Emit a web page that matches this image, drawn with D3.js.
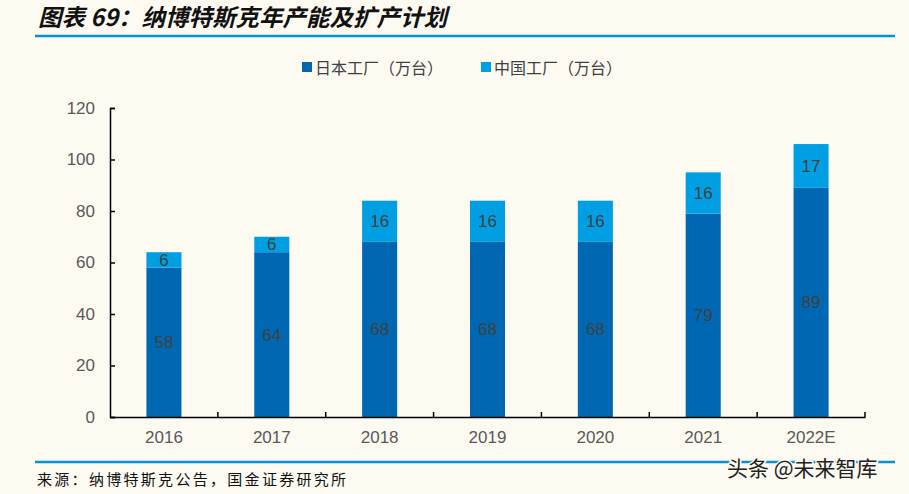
<!DOCTYPE html>
<html><head><meta charset="utf-8">
<script src="https://cdn.jsdelivr.net/npm/d3@7"></script>
<style>
html,body{margin:0;padding:0;background:#FDFAF2;}
svg{display:block;font-family:"Liberation Sans",Arial,"Noto Sans CJK SC",sans-serif;}
</style></head>
<body>
<svg id="c" width="909" height="494"></svg>
<script>
const categories = ["2016","2017","2018","2019","2020","2021","2022E"];
const japanValues = [58,64,68,68,68,79,89];
const chinaValues = [6,6,16,16,16,16,17];
const seriesNames = ["日本工厂（万台）","中国工厂（万台）"];
const yTicks = [0,20,40,60,80,100,120];
const colors = ["#0068B3","#009FE3"];

const svg = d3.select("#c");
svg.append("rect").attr("width",909).attr("height",494).attr("fill","#FDFAF2");

// title
svg.append("text").attr("x",38).attr("y",26)
  .attr("font-family","'Noto Sans CJK SC',sans-serif").attr("font-weight","bold")
  .attr("font-style","italic").attr("font-size",23.5).attr("fill","#111")
  .text("图表 69：纳博特斯克年产能及扩产计划");
svg.append("line").attr("x1",35).attr("x2",895).attr("y1",36).attr("y2",36)
  .attr("stroke","#0095DA").attr("stroke-width",2.5);

const x = d3.scaleBand().domain(categories).range([110,865]).paddingInner(0.675).paddingOuter(0.3375);
const y = d3.scaleLinear().domain([0,120]).range([417,108]);

const stackData = categories.map((c,i)=>({cat:c, japan:japanValues[i], china:chinaValues[i]}));
const stack = d3.stack().keys(["japan","china"])(stackData);

const g = svg.append("g");
stack.forEach((s,si)=>{
  g.selectAll(null).data(s).enter().append("rect")
    .attr("x",d=>x(d.data.cat)).attr("width",x.bandwidth())
    .attr("y",d=>y(d[1])).attr("height",d=>y(d[0])-y(d[1]))
    .attr("fill",colors[si]);
  g.selectAll(null).data(s).enter().append("text")
    .attr("x",d=>x(d.data.cat)+x.bandwidth()/2)
    .attr("y",d=>(y(d[0])+y(d[1]))/2+6)
    .attr("text-anchor","middle").attr("font-size",17).attr("fill","#404040")
    .text(d=>d[1]-d[0]);
});

// y axis
const yAxis = d3.axisLeft(y).tickValues(yTicks).tickSize(-5).tickPadding(15);
const ya = svg.append("g").attr("transform","translate(110,0)").call(yAxis);
ya.select(".domain").attr("stroke","#000").attr("stroke-width",1.5);
ya.selectAll(".tick line").attr("stroke","#000").attr("stroke-width",1.5);
ya.selectAll(".tick text").attr("font-size",17).attr("fill","#595959")
  .attr("font-family","'Liberation Sans',Arial,sans-serif");

// x axis
const xAxis = d3.axisBottom(x).tickSize(0).tickPadding(14);
const xa = svg.append("g").attr("transform","translate(0,417)").call(xAxis);
xa.select(".domain").attr("stroke","#000").attr("stroke-width",1.5);
xa.selectAll(".tick text").attr("font-size",17).attr("fill","#595959")
  .attr("font-family","'Liberation Sans',Arial,sans-serif");
// boundary ticks pointing up
const bounds = d3.range(1, categories.length+1).map(i=>110+i*(755/categories.length));
svg.append("g").selectAll("line").data(bounds).enter().append("line")
  .attr("x1",d=>d).attr("x2",d=>d).attr("y1",417).attr("y2",412)
  .attr("stroke","#000").attr("stroke-width",1.5);

// legend
const legX = [302,481];
seriesNames.forEach((n,i)=>{
  svg.append("rect").attr("x",legX[i]).attr("y",62).attr("width",10).attr("height",10).attr("fill",colors[i]);
  svg.append("text").attr("x",legX[i]+13).attr("y",74)
    .attr("font-family","'Noto Sans CJK SC',sans-serif").attr("font-size",16).attr("fill","#404040").text(n);
});

// bottom line and source
svg.append("line").attr("x1",35).attr("x2",895).attr("y1",462).attr("y2",462)
  .attr("stroke","#0095DA").attr("stroke-width",2.5);
svg.append("text").attr("x",37).attr("y",485)
  .attr("font-family","'Noto Sans CJK SC',sans-serif").attr("font-size",15)
  .attr("letter-spacing",2.3).attr("fill","#111")
  .text("来源：纳博特斯克公告，国金证券研究所");
svg.append("text").attr("x",727).attr("y",476)
  .attr("font-family","'Noto Sans CJK SC',sans-serif").attr("font-size",21).attr("fill","#222")
  .attr("stroke","#FDFAF2").attr("stroke-width",3).attr("paint-order","stroke")
  .text("头条 @未来智库");
</script>
</body></html>
